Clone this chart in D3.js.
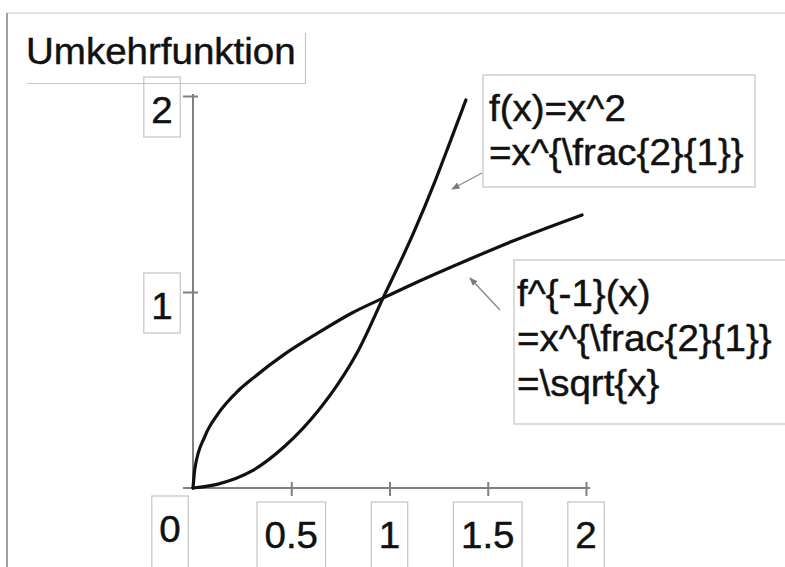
<!DOCTYPE html>
<html>
<head>
<meta charset="utf-8">
<script src="https://cdn.jsdelivr.net/npm/d3@7/dist/d3.min.js"></script>
<style>
  html, body { margin: 0; padding: 0; background: #fff; }
  svg { display: block; }
  text { font-family: "Liberation Sans", Arial, sans-serif; fill: #111; stroke: #111; stroke-width: 0.45px; }
</style>
</head>
<body>
<svg id="chart" width="785" height="567"></svg>
<script>
// ---- data ----
const title = "Umkehrfunktion";

const xTicks = [0, 0.5, 1, 1.5, 2];
const xTickLabels = ["0", "0.5", "1", "1.5", "2"];
const yTicks = [1, 2];
const yTickLabels = ["1", "2"];

// f(x) = x^2, traced points
const squareX = [0, 0.127, 0.300, 0.468, 0.636, 0.738, 0.840, 0.967, 1.120, 1.232, 1.308, 1.389];
const squareY = [0, 0.020, 0.087, 0.214, 0.393, 0.531, 0.699, 0.969, 1.296, 1.566, 1.765, 1.980];

// inverse function sqrt(x), traced points
const rootX = [0, 0.010, 0.061, 0.127, 0.229, 0.300, 0.468, 0.636, 0.809, 0.967, 1.120, 1.374, 1.628, 1.980];
const rootY = [0, 0.102, 0.265, 0.378, 0.495, 0.556, 0.684, 0.791, 0.893, 0.969, 1.041, 1.153, 1.260, 1.393];

const noteSquare = ["f(x)=x^2", "=x^{\\frac{2}{1}}"];
const noteRoot = ["f^{-1}(x)", "=x^{\\frac{2}{1}}", "=\\sqrt{x}"];

// ---- drawing ----
const svg = d3.select("#chart");
const FS = 36;      // font size
const SX = 1.07;    // horizontal text stretch
const boxColor = "#c4c4c4";
const axisColor = "#808080";

const x = d3.scaleLinear().domain([0, 2]).range([193, 586]);
const y = d3.scaleLinear().domain([0, 2]).range([488, 96]);

function label(g, str, px, py, anchor) {
  return g.append("text")
    .attr("transform", `translate(${px},${py}) scale(${SX},1)`)
    .attr("text-anchor", anchor || "start")
    .style("font-size", FS + "px")
    .text(str);
}

// page edge
svg.append("line").attr("x1", 7).attr("x2", 785).attr("y1", 13).attr("y2", 13)
  .attr("stroke", "#e2e2e2").attr("stroke-width", 2);
svg.append("line").attr("x1", 7).attr("x2", 7).attr("y1", 13).attr("y2", 567)
  .attr("stroke", "#a0a0a0").attr("stroke-width", 2);

// title with its frame
const tg = svg.append("g");
label(tg, title, 26, 64);
tg.append("path").attr("d", "M27,83.5H305.5V33")
  .attr("fill", "none").attr("stroke", boxColor).attr("stroke-width", 1.2);

// axes
const axes = svg.append("g");
const xAxis = d3.axisBottom(x).tickValues(xTicks.slice(1)).tickSize(8).tickFormat("");
const yAxis = d3.axisLeft(y).tickValues(yTicks).tickSize(10).tickFormat("");

const gx = axes.append("g").attr("transform", `translate(0,${y(0)})`).call(xAxis);
gx.select(".domain").remove();
gx.selectAll(".tick line").attr("y1", -6).attr("y2", 8)
  .attr("stroke", axisColor).attr("stroke-width", 2);

const gy = axes.append("g").attr("transform", `translate(${x(0)},0)`).call(yAxis);
gy.select(".domain").remove();
gy.selectAll(".tick line").attr("x1", -10).attr("x2", 5)
  .attr("stroke", axisColor).attr("stroke-width", 2);

axes.append("line").attr("x1", x(0) - 10).attr("x2", x(2) + 4)
  .attr("y1", y(0)).attr("y2", y(0)).attr("stroke", axisColor).attr("stroke-width", 2);
axes.append("line").attr("x1", x(0)).attr("x2", x(0))
  .attr("y1", y(0) + 2).attr("y2", y(2) - 2).attr("stroke", axisColor).attr("stroke-width", 2);

// boxed tick labels
const lab = svg.append("g");
xTicks.forEach((v, i) => {
  const origin = v === 0;
  const cx = origin ? x(v) - 23 : x(v);
  const top = origin ? y(0) + 8 : y(0) + 14;
  const t = label(lab, xTickLabels[i], cx, top + 46, "middle");
  const w = t.node().getComputedTextLength() * SX + 15;
  lab.insert("rect", "text").attr("x", cx - w / 2).attr("y", top)
    .attr("width", w).attr("height", 120)
    .attr("fill", "none").attr("stroke", boxColor).attr("stroke-width", 1.2);
});
yTicks.forEach((v, i) => {
  const cx = x(0) - 31;
  const top = y(v) - 19;
  const t = label(lab, yTickLabels[i], cx, top + 46, "middle");
  const w = t.node().getComputedTextLength() * SX + 15;
  lab.insert("rect", "text").attr("x", cx - w / 2).attr("y", top)
    .attr("width", w).attr("height", 60)
    .attr("fill", "none").attr("stroke", boxColor).attr("stroke-width", 1.2);
});

// curves
const line = d3.line()
  .x(d => x(d[0])).y(d => y(d[1]))
  .curve(d3.curveMonotoneX);
const curves = svg.append("g").attr("fill", "none").attr("stroke", "#111")
  .attr("stroke-width", 3.2).attr("stroke-linecap", "round");
curves.append("path").attr("d", line(d3.zip(squareX, squareY)));
curves.append("path").attr("d", line(d3.zip(rootX, rootY)));

// annotations
svg.append("defs").append("marker")
  .attr("id", "head").attr("viewBox", "0 0 10 10")
  .attr("refX", 9).attr("refY", 5)
  .attr("markerWidth", 6).attr("markerHeight", 6)
  .attr("orient", "auto")
  .append("path").attr("d", "M0,1L10,5L0,9Z").attr("fill", "#7a7a7a");

function note(lines, bx, by, bw, bh, tx, firstBase, gap, arrowFrom, arrowTo) {
  const g = svg.append("g");
  g.append("rect").attr("x", bx).attr("y", by).attr("width", bw).attr("height", bh)
    .attr("fill", "#fff").attr("stroke", boxColor).attr("stroke-width", 1.2);
  lines.forEach((s, i) => label(g, s, tx, firstBase + i * gap));
  g.append("line")
    .attr("x1", arrowFrom[0]).attr("y1", arrowFrom[1])
    .attr("x2", arrowTo[0]).attr("y2", arrowTo[1])
    .attr("stroke", "#8a8a8a").attr("stroke-width", 1.4)
    .attr("marker-end", "url(#head)");
}
note(noteSquare, 483, 75, 272, 112, 489, 121, 44, [482, 173], [452, 189]);
note(noteRoot, 514, 260, 300, 164, 517, 306, 45, [500, 310], [470, 278]);
</script>
</body>
</html>
